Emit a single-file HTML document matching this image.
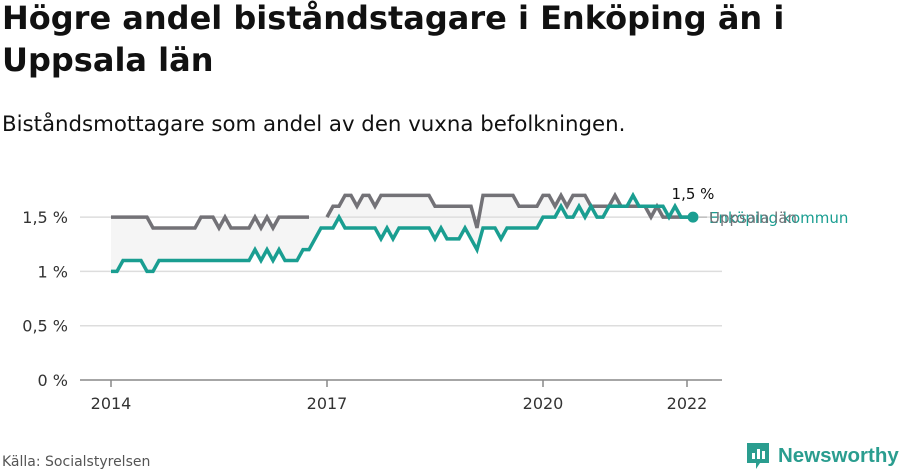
<!DOCTYPE html>
<html><head><meta charset="utf-8">
<style>
body{margin:0;width:900px;height:474px;background:#fff;font-family:"DejaVu Sans","Liberation Sans",sans-serif;color:#111;position:relative;overflow:hidden}
h1{position:absolute;left:2px;top:-3px;margin:0;font-size:32px;line-height:42px;font-weight:bold;width:840px}
.sub{position:absolute;left:2px;top:112px;font-size:21.3px}
.src{position:absolute;left:2px;top:454px;font-size:14px;color:#555}
.logo{position:absolute;left:745px;top:441px;display:flex;align-items:center;color:#2a9d8f;font-weight:bold;font-size:20.5px;font-family:"Liberation Sans",sans-serif}
</style></head><body>
<h1>Högre andel biståndstagare i Enköping än i Uppsala län</h1>
<div class="sub">Biståndsmottagare som andel av den vuxna befolkningen.</div>
<svg id="chart" width="900" height="474" style="position:absolute;left:0;top:0;font-family:'DejaVu Sans','Liberation Sans',sans-serif"></svg>
<div class="src">Källa: Socialstyrelsen</div>
<div class="logo">
<svg width="26" height="30" viewBox="0 0 26 30"><path d="M2 2h22v20h-9l-4 6v-6H2z" fill="#2a9d8f"/><rect x="7" y="12" width="3" height="6" fill="#fff"/><rect x="12" y="8" width="3" height="10" fill="#fff"/><rect x="17" y="10" width="3" height="8" fill="#fff"/></svg>
<span style="margin-left:7px">Newsworthy</span></div>
<script>
const yTicks=[0,0.5,1,1.5];
const yTickLabels=["0 %","0,5 %","1 %","1,5 %"];
const xTicks=[2014,2017,2020,2022];
const uppsala=[1.5,1.5,1.5,1.5,1.5,1.5,1.5,1.4,1.4,1.4,1.4,1.4,1.4,1.4,1.4,1.5,1.5,1.5,1.4,1.5,1.4,1.4,1.4,1.4,1.5,1.4,1.5,1.4,1.5,1.5,1.5,1.5,1.5,1.5,null,null,1.5,1.6,1.6,1.7,1.7,1.6,1.7,1.7,1.6,1.7,1.7,1.7,1.7,1.7,1.7,1.7,1.7,1.7,1.6,1.6,1.6,1.6,1.6,1.6,1.6,1.4,1.7,1.7,1.7,1.7,1.7,1.7,1.6,1.6,1.6,1.6,1.7,1.7,1.6,1.7,1.6,1.7,1.7,1.7,1.6,1.6,1.6,1.6,1.7,1.6,1.6,1.6,1.6,1.6,1.5,1.6,1.5,1.5,1.5,1.5,1.5,1.5];
const enkoping=[1.0,1.0,1.1,1.1,1.1,1.1,1.0,1.0,1.1,1.1,1.1,1.1,1.1,1.1,1.1,1.1,1.1,1.1,1.1,1.1,1.1,1.1,1.1,1.1,1.2,1.1,1.2,1.1,1.2,1.1,1.1,1.1,1.2,1.2,1.3,1.4,1.4,1.4,1.5,1.4,1.4,1.4,1.4,1.4,1.4,1.3,1.4,1.3,1.4,1.4,1.4,1.4,1.4,1.4,1.3,1.4,1.3,1.3,1.3,1.4,1.3,1.2,1.4,1.4,1.4,1.3,1.4,1.4,1.4,1.4,1.4,1.4,1.5,1.5,1.5,1.6,1.5,1.5,1.6,1.5,1.6,1.5,1.5,1.6,1.6,1.6,1.6,1.7,1.6,1.6,1.6,1.6,1.6,1.5,1.6,1.5,1.5,1.5];
const NS="http://www.w3.org/2000/svg";
const svg=document.getElementById('chart');
const x=m=>111+m*6, xy=yr=>111+(yr-2014)*72, y=v=>380-v*108.6;
function el(t,a){const e=document.createElementNS(NS,t);for(const k in a)e.setAttribute(k,a[k]);svg.appendChild(e);return e;}
let pts=[];
enkoping.forEach((v,i)=>{const u=uppsala[i]!=null?uppsala[i]:1.5;pts.push(x(i)+','+y(u));});
for(let i=enkoping.length-1;i>=0;i--)pts.push(x(i)+','+y(enkoping[i]));
const f=el('polygon',{points:pts.join(' '),fill:'#f5f5f5'});

yTicks.forEach((t,i)=>{
 const g=el('line',{x1:80,x2:722,y1:y(t),y2:y(t),stroke:t===0?'#888':'#ddd','stroke-width':1.5});
 
 const l=el('text',{x:68,y:y(t)+6,'text-anchor':'end','font-size':16,fill:'#333'});l.textContent=yTickLabels[i];
 
});
xTicks.forEach(t=>{
 const tk=el('line',{x1:xy(t),x2:xy(t),y1:380,y2:387,stroke:'#888','stroke-width':1.5});
 
 const l=el('text',{x:xy(t),y:409,'text-anchor':'middle','font-size':16,fill:'#333'});l.textContent=t;
 
});
function line(data,color,name){
 let d='',pen=false;
 data.forEach((v,i)=>{if(v==null){pen=false;return;}d+=(pen?'L':'M')+x(i)+' '+y(v);pen=true;});
 const p=el('path',{d:d,fill:'none',stroke:color,'stroke-width':3.5,'stroke-linejoin':'miter'});
 
}
line(uppsala,'#737277','uppsala-line');
line(enkoping,'#1a9e91','enkoping-line');
const n=enkoping.length-1;
const d=el('circle',{cx:x(n),cy:y(enkoping[n]),r:5.5,fill:'#1a9e91'});

const v=el('text',{x:x(n),y:y(enkoping[n])-18,'text-anchor':'middle','font-size':15,fill:'#111'});v.textContent='1,5 %';

const c=el('line',{x1:x(n)+6,x2:x(n)+14,y1:y(1.5),y2:y(1.5),stroke:'#aaa','stroke-width':1});

const l1=el('text',{x:x(n)+16,y:y(1.5)+6,'font-size':15,fill:'#1a9e91'});l1.textContent='Enköping kommun';

const l2=el('text',{x:x(n)+16,y:y(1.5)+6,'font-size':15,fill:'#737277'});l2.textContent='Uppsala län';

</script>
</body></html>
